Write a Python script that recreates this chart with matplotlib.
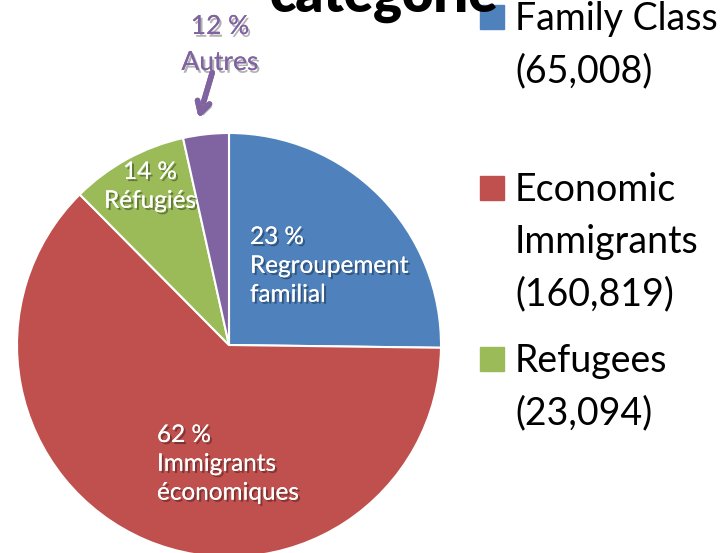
"""
Permanent residents by category - pie chart with French overlay labels.
"""

import matplotlib
matplotlib.use('Agg')
import matplotlib.pyplot as plt
import matplotlib.patheffects as pe
from matplotlib.patches import Rectangle

plt.rcParams['font.family'] = ['Lato', 'DejaVu Sans']

# Data
categories = ['Family Class', 'Economic\nImmigrants', 'Refugees', 'Other']
counts = [65008, 160819, 23094, 8966]
colors = ['#4F81BD', '#C0504D', '#9BBB59', '#8064A2']

# French labels drawn over the slices
fr_labels = ['23 %\nRegroupement\nfamilial',
             '62 %\nImmigrants\néconomiques',
             '14 %\nRéfugiés',
             '12 %\nAutres']

W, H = 727, 553
fig = plt.figure(figsize=(W / 100, H / 100), dpi=100)
ax = fig.add_axes([0, 0, 1, 1])

ax.pie(counts, colors=colors, startangle=90, counterclock=False,
       center=(229, H - 345), radius=212,
       wedgeprops=dict(edgecolor='white', linewidth=1.5))

ax.set_xlim(0, W)
ax.set_ylim(0, H)
ax.set_aspect('equal')
ax.axis('off')

shadow = [pe.withSimplePatchShadow(offset=(1.5, -1.5), shadow_rgbFace='black', alpha=0.35),
          pe.Normal()]

# slice labels (white)
label_pos = [(250, H - 227, 'left'), (157, H - 425, 'left'), (150, H - 162, 'center')]
for (x, y, ha), txt in zip(label_pos, fr_labels[:3]):
    ax.text(x, y, txt, ha=ha, va='top', fontsize=17.5, color='white',
            linespacing=1.46, path_effects=shadow)

# "Autres" label with arrow (purple)
ax.text(220, H - 14, fr_labels[3], ha='center', va='top', fontsize=19,
        color=colors[3], linespacing=1.55,
        path_effects=[pe.withSimplePatchShadow(offset=(1.5, -2), shadow_rgbFace='gray', alpha=0.6),
                      pe.Normal()])
ax.annotate('', xy=(198, H - 121), xytext=(213, H - 70),
            arrowprops=dict(arrowstyle='->,head_length=0.8,head_width=0.45',
                            color=colors[3], lw=4,
                            path_effects=[pe.withSimplePatchShadow(offset=(2, -2), shadow_rgbFace='gray', alpha=0.6),
                                          pe.Normal()]))

# Title, cut off at the top of the picture
ax.text(384, H - 12, 'catégorie', ha='center', va='baseline',
        fontsize=39, fontweight='heavy', color='black')

# Legend (first three categories)
legend_y = [5, 176, 347]
for name, n, c, y in zip(categories[:3], counts[:3], colors[:3], legend_y):
    ax.add_patch(Rectangle((480, H - y - 24), 24, 24, color=c))
    ax.text(515, H - y + 4, f'{name}\n({n:,})', ha='left', va='top',
            fontsize=27, color='black', linespacing=1.55)

fig.savefig('out.png', dpi=100)
